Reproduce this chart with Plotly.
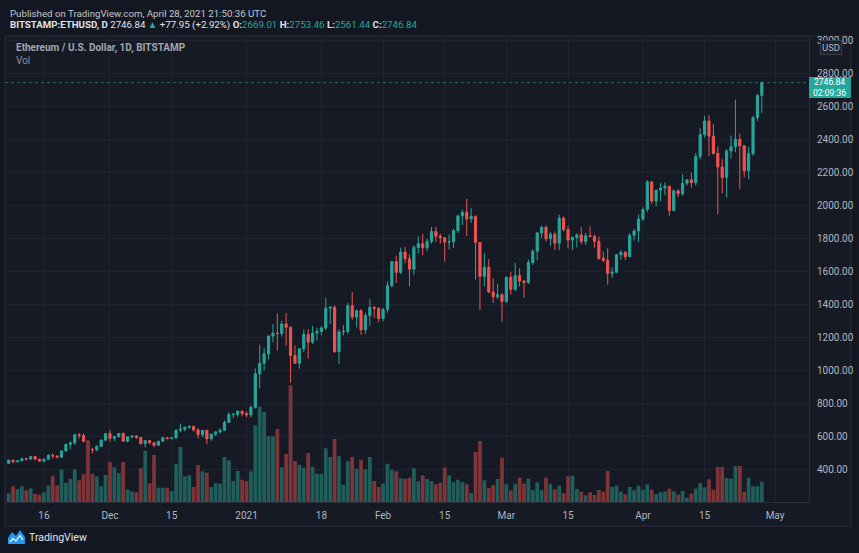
import pandas as pd
import plotly.graph_objects as go

# ---------------- data (BITSTAMP:ETHUSD, daily) ----------------
dates = pd.date_range("2020-11-08", "2021-04-28", freq="D")

open_nov = [435,454,444,450,463,461,476,461,448,460,482,479,472,510,549,559,608,604,569,518,517,538,576]
high_nov = [457,457,454,470,468,478,476,462,464,493,496,482,514,556,570,615,619,617,574,530,544,578,618]
low_nov  = [431,436,441,448,452,455,452,442,440,455,464,465,468,507,521,545,584,562,480,495,508,535,570]
close_nov= [454,444,450,463,461,476,461,448,460,482,479,472,510,549,559,608,604,569,518,517,538,576,615]

open_dec = [615,587,598,616,569,596,601,591,554,573,560,545,569,590,586,589,636,642,654,658,638,609,635,584,612,626,636,683,731,732,752]
high_dec = [635,600,619,622,597,605,605,593,577,576,561,570,596,592,595,640,676,658,667,664,648,638,638,615,628,648,696,745,741,755,754]
low_dec  = [567,571,591,565,563,587,584,550,531,551,533,544,566,579,581,584,624,628,643,627,585,595,550,572,600,616,634,680,710,719,720]
close_dec= [587,598,616,569,596,601,591,554,573,560,545,569,590,586,589,636,642,654,658,638,609,635,584,612,626,636,683,731,732,752,737]

open_jan = [737,729,775,978,1042,1100,1208,1225,1224,1281,1262,1090,1043,1130,1218,1171,1226,1236,1257,1377,1382,1113,1233,1236,1392,1323,1362,1246,1332,1382,1376]
high_jan = [749,787,1011,1155,1134,1211,1280,1345,1300,1349,1264,1151,1134,1248,1250,1269,1258,1268,1440,1390,1395,1250,1273,1410,1474,1369,1372,1350,1435,1390,1382]
low_jan  = [715,714,768,890,999,1065,1170,1120,1205,1150,925,1038,1010,1110,1070,1160,1180,1212,1245,1280,1106,1040,1212,1220,1306,1260,1215,1220,1270,1320,1292]
close_jan= [729,775,978,1042,1100,1208,1225,1224,1281,1262,1090,1043,1130,1218,1171,1226,1236,1257,1377,1382,1113,1233,1236,1392,1323,1362,1246,1332,1382,1376,1314]

open_feb = [1314,1369,1514,1660,1594,1718,1677,1614,1746,1768,1744,1783,1843,1814,1805,1779,1781,1849,1937,1960,1919,1935,1776,1571,1625,1475,1446,1459]
high_feb = [1380,1540,1665,1695,1745,1750,1705,1760,1813,1827,1800,1870,1872,1829,1810,1825,1858,1946,1976,2040,1985,1939,1778,1710,1675,1560,1525,1468]
low_feb  = [1297,1350,1503,1530,1584,1650,1510,1580,1710,1700,1723,1770,1780,1770,1660,1733,1743,1833,1883,1815,1895,1550,1365,1510,1467,1410,1432,1293]
close_feb= [1369,1514,1660,1594,1718,1677,1614,1746,1768,1744,1783,1843,1814,1805,1779,1781,1849,1937,1960,1919,1935,1776,1571,1625,1475,1446,1459,1417]

open_mar = [1417,1565,1492,1575,1542,1533,1654,1723,1834,1868,1799,1826,1772,1924,1854,1791,1806,1822,1782,1817,1813,1783,1681,1668,1588,1595,1702,1716,1691,1819,1846]
high_mar = [1570,1598,1652,1618,1548,1672,1736,1838,1878,1880,1840,1843,1945,1934,1878,1814,1832,1869,1835,1873,1824,1813,1720,1740,1625,1705,1731,1725,1832,1857,1945]
low_mar  = [1410,1460,1480,1508,1440,1524,1640,1666,1802,1782,1755,1730,1730,1843,1740,1730,1745,1766,1762,1809,1745,1670,1656,1520,1560,1590,1671,1670,1686,1787,1778]
close_mar= [1565,1492,1575,1542,1533,1654,1723,1834,1868,1799,1826,1772,1924,1854,1791,1806,1822,1782,1817,1813,1783,1681,1668,1588,1595,1702,1716,1691,1819,1846,1919]

open_apr = [1919,1977,2144,2028,2093,2107,2118,1971,2089,2072,2136,2157,2139,2299,2432,2514,2422,2317,2235,2171,2332,2357,2403,2363,2211,2316,2534,2669.01]
high_apr = [1990,2155,2150,2098,2138,2141,2120,2100,2100,2190,2160,2200,2320,2470,2545,2549,2496,2360,2282,2342,2425,2644,2437,2368,2359,2546,2678,2753.46]
low_apr  = [1906,1960,2010,1996,2026,2062,1935,1965,2052,2060,2122,2110,2121,2281,2413,2300,2310,1947,2075,2050,2285,2324,2099,2172,2163,2302,2514,2561.44]
close_apr= [1977,2144,2028,2093,2107,2118,1971,2089,2072,2136,2157,2139,2299,2432,2514,2422,2317,2235,2171,2332,2357,2403,2363,2211,2316,2534,2668.89,2746.84]

# volume (thousand ETH)
vol_nov = [87,157,127,157,117,137,80,73,97,163,263,167,327,193,233,327,217,277,607,283,257,157,270]
vol_dec = [400,347,290,400,123,107,97,337,513,187,470,143,143,143,110,380,550,257,267,150,370,307,293,150,187,183,450,417,210,310,223]
vol_jan = [207,307,767,953,900,657,657,730,347,480,1167,410,373,343,490,353,283,280,537,450,630,457,173,407,450,333,423,327,450,210,150]
vol_feb = [183,383,323,307,237,230,243,337,207,267,230,210,177,193,343,267,197,223,200,177,90,500,610,217,140,167,230,443]
vol_mar = [177,117,183,243,183,233,120,197,117,243,183,127,163,87,257,263,130,103,67,97,70,120,103,310,150,163,103,77,150,117,163]
vol_apr = [123,177,123,77,97,103,133,107,73,110,43,83,133,190,147,227,123,350,350,240,233,357,360,103,243,157,157,203]

opens  = open_nov + open_dec + open_jan + open_feb + open_mar + open_apr
highs  = high_nov + high_dec + high_jan + high_feb + high_mar + high_apr
lows   = low_nov + low_dec + low_jan + low_feb + low_mar + low_apr
closes = close_nov + close_dec + close_jan + close_feb + close_mar + close_apr
volumes = vol_nov + vol_dec + vol_jan + vol_feb + vol_mar + vol_apr
assert len(dates) == len(opens) == len(highs) == len(lows) == len(closes) == len(volumes)

price_ticks = list(range(400, 3001, 200))
price_ticktext = [f"{v}.00" for v in price_ticks]
time_tickvals = ["2020-11-16", "2020-12-01", "2020-12-15", "2021-01-01", "2021-01-18", "2021-02-01",
                 "2021-02-15", "2021-03-01", "2021-03-15", "2021-04-01", "2021-04-15", "2021-05-01"]
time_ticktext = ["16", "Dec", "15", "2021", "18", "Feb", "15", "Mar", "15", "Apr", "15", "May"]
last_price = 2746.84

# ---------------- styling ----------------
W, H = 859, 553
ML, MR, MT, MB = 5, 48, 36, 51
PW, PH = W - ML - MR, H - MT - MB

def fx(px):
    return (px - ML) / PW

def fy(py):
    return (H - MB - py) / PH

UP, DOWN = "#26a69a", "#ef5350"
VUP, VDOWN = "#1f5e5b", "#7d3538"
TXT = "#b2b5be"
GRID = "#1f2330"
BG_OUT = "#131722"
BG_PANE = "#161a25"
FONT = "Roboto"

vol_colors = [VUP if c >= o else VDOWN for o, c in zip(opens, closes)]

fig = go.Figure()
fig.add_trace(go.Bar(
    x=dates, y=volumes, marker=dict(color=vol_colors, line=dict(width=0)),
    yaxis="y2", hoverinfo="skip", showlegend=False,
))
fig.add_trace(go.Candlestick(
    x=dates, open=opens, high=highs, low=lows, close=closes,
    increasing=dict(line=dict(color=UP, width=1), fillcolor=UP),
    decreasing=dict(line=dict(color=DOWN, width=1), fillcolor=DOWN),
    whiskerwidth=0, showlegend=False,
))

ann = []
ann.append(dict(x=fx(8), y=fy(13), xref="paper", yref="paper", xanchor="left", yanchor="middle",
                showarrow=False, text="Published on TradingView.com, April 28, 2021 21:50:36 UTC",
                font=dict(family=FONT, size=9.7, color="#c3c6ce")))
g = UP
line2 = (f"<b>BITSTAMP:ETHUSD, D</b> 2746.84 <span style='color:{g}'>▲</span> +77.95 (+2.92%) "
         f"<b>O:</b><span style='color:{g}'>2669.01</span> <b>H:</b><span style='color:{g}'>2753.46</span> "
         f"<b>L:</b><span style='color:{g}'>2561.44</span> <b>C:</b><span style='color:{g}'>2746.84</span>")
ann.append(dict(x=fx(8), y=fy(25.5), xref="paper", yref="paper", xanchor="left", yanchor="middle",
                showarrow=False, text=line2, font=dict(family=FONT, size=9.7, color="#e0e3eb")))
ann.append(dict(x=fx(14), y=fy(47.5), xref="paper", yref="paper", xanchor="left", yanchor="middle",
                showarrow=False, text="<b>Ethereum / U.S. Dollar, 1D, BITSTAMP</b>",
                font=dict(family=FONT, size=10, color="#a3a6af")))
ann.append(dict(x=fx(14), y=fy(61), xref="paper", yref="paper", xanchor="left", yanchor="middle",
                showarrow=False, text="Vol", font=dict(family=FONT, size=10, color="#8d909a")))
ann.append(dict(x=fx(833), y=fy(47.5), xref="paper", yref="paper", xanchor="center", yanchor="middle",
                showarrow=False, text="USD", font=dict(family=FONT, size=9.5, color="#b2b5be"),
                bgcolor="#1c202b", bordercolor="#3a3e4a", borderwidth=1, borderpad=1))
# last-price label (box drawn as a shape below)
ann.append(dict(x=fx(832), y=fy(87.5), xref="paper", yref="paper", xanchor="center", yanchor="middle",
                showarrow=False, align="center", text="2746.84<br>02:09:36",
                font=dict(family=FONT, size=8.6, color="#ffffff")))
ann.append(dict(x=fx(27), y=fy(537), xref="paper", yref="paper", xanchor="left", yanchor="middle",
                showarrow=False, text="TradingView", font=dict(family=FONT, size=10.5, color="#e0e3eb")))

def path(points):
    s = "M " + " L ".join(f"{fx(a):.5f},{fy(b):.5f}" for a, b in points)
    return s

shapes = []
# chart pane
shapes.append(dict(type="rect", xref="paper", yref="paper", x0=fx(5), x1=fx(853), y0=fy(526), y1=fy(36),
                   fillcolor=BG_PANE, line=dict(color="#2a2e39", width=1), layer="below"))
# last price dashed line
shapes.append(dict(type="line", xref="paper", yref="y", x0=0, x1=1, y0=last_price, y1=last_price,
                   line=dict(color=UP, width=1, dash="dot"), opacity=0.6))
# last price box
shapes.append(dict(type="rect", xref="paper", yref="paper", x0=fx(811), x1=fx(853), y0=fy(98), y1=fy(77),
                   fillcolor=UP, line=dict(width=0)))
# TradingView logo
shapes.append(dict(type="path", xref="paper", yref="paper",
                   path=path([(8, 544), (8, 538), (12, 532), (16, 536), (20, 530), (25, 537), (25, 544)]) + " Z",
                   fillcolor="#2196f3", line=dict(width=0)))
shapes.append(dict(type="path", xref="paper", yref="paper",
                   path=path([(10, 542), (13, 538.5), (16, 541), (20, 535.5), (23, 540)]),
                   line=dict(color="#ffffff", width=1.2)))

fig.update_layout(
    width=W, height=H,
    margin=dict(l=ML, r=MR, t=MT, b=MB, pad=0),
    paper_bgcolor=BG_OUT, plot_bgcolor="rgba(0,0,0,0)",
    font=dict(family=FONT, color=TXT, size=10),
    showlegend=False, bargap=0.15, hovermode=False,
    xaxis=dict(
        range=["2020-11-07 04:00", "2021-05-08 17:00"],
        rangeslider=dict(visible=False),
        tickvals=time_tickvals, ticktext=time_ticktext,
        tickfont=dict(size=10, color=TXT), ticks="outside", ticklen=4, tickcolor=BG_PANE,
        showgrid=True, gridcolor=GRID, gridwidth=1,
        showline=True, linecolor="#2a2e39", linewidth=1,
        zeroline=False, fixedrange=True,
    ),
    yaxis=dict(
        side="right", range=[200, 3030],
        tickvals=price_ticks, ticktext=price_ticktext,
        tickfont=dict(size=10, color=TXT), ticks="outside", ticklen=5, tickcolor=BG_PANE,
        showgrid=True, gridcolor=GRID, gridwidth=1,
        showline=True, linecolor="#2a2e39", linewidth=1,
        zeroline=False,
    ),
    yaxis2=dict(
        overlaying="y", range=[0, 4660], visible=False, showgrid=False,
    ),
    annotations=ann, shapes=shapes,
)

fig.write_html("out.html", config={"displayModeBar": False, "staticPlot": True},
               post_script="document.body.style.margin='0';document.body.style.background='#131722';")
